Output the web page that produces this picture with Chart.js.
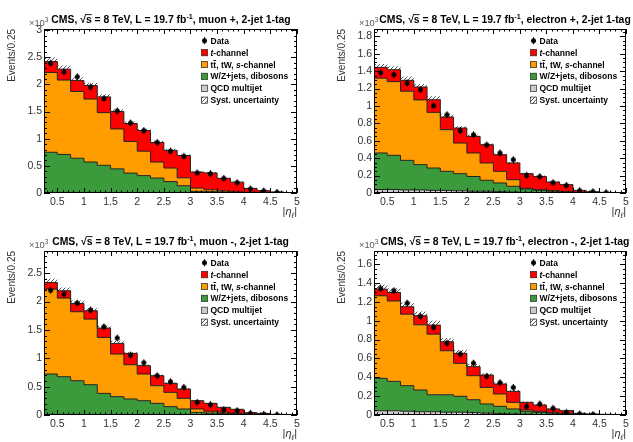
<!DOCTYPE html>
<html>
<head>
<meta charset="utf-8">
<title>t-channel single top |eta| distributions</title>
<script src="https://cdn.jsdelivr.net/npm/chart.js@4.4.1/dist/chart.umd.min.js"></script>
<style>
html, body {
  margin:0px;
  padding:0px;
  background:#ffffff;
}
body {
  position:relative;
  width:633px;
  height:442px;
  overflow:hidden;
}
.pad { position:absolute; }
</style>
</head>
<body>
<div class="pad" style="left:0px;top:0px;width:316px;height:221px"><canvas id="muPlus"></canvas></div>
<div class="pad" style="left:316px;top:0px;width:317px;height:221px"><canvas id="elPlus"></canvas></div>
<div class="pad" style="left:0px;top:221px;width:316px;height:221px"><canvas id="muMinus"></canvas></div>
<div class="pad" style="left:316px;top:221px;width:317px;height:221px"><canvas id="elMinus"></canvas></div>
<script>
// bin edges of |eta_l| (bin width 0.25), values are in units of 10^3 events
const binEdges = [0.25,0.5,0.75,1,1.25,1.5,1.75,2,2.25,2.5,2.75,3,3.25,3.5,3.75,4,4.25,4.5,4.75,5];

// muon +
const qcdMuPlus  = [0.01,0.01,0.01,0.01,0.008,0.008,0.006,0.006,0.005,0.004,0.003,0.002,0.002,0.001,0.001,0,0,0,0];
const wzMuPlus   = [0.74,0.70,0.63,0.56,0.502,0.437,0.36,0.314,0.27,0.206,0.131,0.028,0.023,0.019,0.011,0.005,0.002,0.001,0];
const ttMuPlus   = [1.47,1.37,1.23,1.16,0.97,0.735,0.584,0.45,0.295,0.25,0.146,0.06,0.035,0.02,0.008,0.005,0.003,0.001,0.001];
const tchMuPlus  = [0.20,0.20,0.20,0.25,0.29,0.32,0.33,0.38,0.36,0.325,0.41,0.296,0.31,0.23,0.18,0.076,0.038,0.018,0.004];
const dataMuPlus = [2.39,2.23,2.14,1.95,1.74,1.51,1.29,1.15,0.93,0.77,0.675,0.37,0.356,0.27,0.19,0.074,0.037,0.012,null];
const systMuPlus = [0.08,0.07,0.06,0.05,0.05,0.04,0.035,0.03,0.03,0.03,0.02,0.015,0.015,0.01,0.01,0.005,0.003,0.002,0.001];

// electron +
const qcdElPlus  = [0.04,0.04,0.035,0.035,0.03,0.03,0.025,0.02,0.02,0.015,0.01,0.008,0.005,0.004,0.003,0.002,0.001,0.001,0];
const wzElPlus   = [0.42,0.393,0.34,0.291,0.257,0.219,0.197,0.17,0.126,0.10,0.067,0.038,0.025,0.016,0.007,0.003,0.001,0,0];
const ttElPlus   = [0.86,0.847,0.795,0.744,0.64,0.479,0.352,0.27,0.199,0.134,0.076,0.008,0.008,0.007,0.005,0.003,0.002,0.001,0.001];
const tchElPlus  = [0.124,0.137,0.125,0.148,0.145,0.145,0.173,0.191,0.21,0.191,0.192,0.168,0.152,0.099,0.081,0.022,0.011,0.006,0.002];
const dataElPlus = [1.383,1.36,1.264,1.187,1.003,0.9,0.716,0.67,0.552,0.46,0.383,0.203,0.188,0.119,0.088,0.027,0.015,0.003,null];
const systElPlus = [0.04,0.04,0.045,0.035,0.04,0.03,0.02,0.02,0.015,0.015,0.01,0.01,0.01,0.008,0.005,0.003,0.002,0.001,0.001];

// muon -
const qcdMuMinus  = [0.01,0.01,0.01,0.008,0.008,0.006,0.006,0.005,0.004,0.004,0.003,0.002,0.002,0.001,0.001,0,0,0,0];
const wzMuMinus   = [0.712,0.665,0.594,0.526,0.373,0.317,0.276,0.247,0.201,0.143,0.103,0.045,0.033,0.022,0.017,0.01,0.004,0.002,0];
const ttMuMinus   = [1.496,1.385,1.216,1.156,0.986,0.751,0.604,0.47,0.311,0.252,0.187,0.059,0.03,0.024,0.011,0.008,0.004,0.001,0.001];
const tchMuMinus  = [0.118,0.129,0.146,0.147,0.165,0.188,0.20,0.147,0.176,0.159,0.165,0.146,0.14,0.088,0.071,0.023,0.021,0.009,0.005];
const dataMuMinus = [2.2,2.13,1.97,1.85,1.555,1.356,1.056,0.921,0.692,0.587,0.487,0.223,0.182,0.094,0.076,0.029,0.012,0.003,null];
const systMuMinus = [0.07,0.06,0.05,0.045,0.04,0.045,0.02,0.02,0.02,0.015,0.015,0.01,0.01,0.008,0.005,0.003,0.002,0.001,0.001];

// electron -
const qcdElMinus  = [0.045,0.045,0.04,0.035,0.035,0.03,0.03,0.025,0.02,0.015,0.01,0.008,0.005,0.004,0.003,0.002,0.001,0.001,0];
const wzElMinus   = [0.344,0.312,0.271,0.23,0.18,0.185,0.168,0.137,0.097,0.077,0.054,0.031,0.023,0.014,0.007,0.003,0.001,0,0];
const ttElMinus   = [0.876,0.853,0.759,0.692,0.643,0.467,0.35,0.255,0.176,0.131,0.07,0.014,0.011,0.01,0.008,0.005,0.003,0.001,0.001];
const tchElMinus  = [0.07,0.09,0.078,0.096,0.096,0.095,0.106,0.095,0.131,0.106,0.117,0.081,0.067,0.036,0.028,0.008,0.006,0.005,0.003];
const dataElMinus = [1.342,1.318,1.187,1.046,0.929,0.763,0.646,0.551,0.41,0.343,0.293,0.092,0.117,0.071,0.028,0.011,0.004,null,null];
const systElMinus = [0.05,0.045,0.045,0.045,0.045,0.04,0.035,0.03,0.02,0.02,0.015,0.01,0.01,0.008,0.005,0.003,0.002,0.001,0.001];

const xTicksMajor = 0.5;

const FONT = "'Liberation Sans', Arial, Helvetica, sans-serif";
const colQcd = '#cccccc', colWz = '#3b9a3b', colTt = '#ff9c00', colTch = '#ff0000';

const panels = [
  {id:'muPlus', channel:'muon +', qcd:qcdMuPlus, wz:wzMuPlus, tt:ttMuPlus, tch:tchMuPlus, data:dataMuPlus, syst:systMuPlus,
   yMax:3.02, yStep:0.5, yMinor:5, area:{left:44, top:29, right:297, bottom:193}, w:316, titleShift:0.5},
  {id:'elPlus', channel:'electron +', qcd:qcdElPlus, wz:wzElPlus, tt:ttElPlus, tch:tchElPlus, data:dataElPlus, syst:systElPlus,
   yMax:1.885, yStep:0.2, yMinor:4, area:{left:58, top:29, right:310, bottom:193}, w:317, titleShift:5},
  {id:'muMinus', channel:'muon -', qcd:qcdMuMinus, wz:wzMuMinus, tt:ttMuMinus, tch:tchMuMinus, data:dataMuMinus, syst:systMuMinus,
   yMax:2.89, yStep:0.5, yMinor:5, area:{left:44, top:30, right:297, bottom:194}, w:316, titleShift:0},
  {id:'elMinus', channel:'electron -', qcd:qcdElMinus, wz:wzElMinus, tt:ttElMinus, tch:tchElMinus, data:dataElMinus, syst:systElMinus,
   yMax:1.74, yStep:0.2, yMinor:4, area:{left:58, top:30, right:310, bottom:194}, w:317, titleShift:5}
];

// data marker: dot with a small vertical error bar
function makeDataMarker() {
  const c = document.createElement('canvas');
  c.width = 7; c.height = 9;
  const g = c.getContext('2d');
  g.fillStyle = '#000';
  g.beginPath(); g.arc(3.5, 4.5, 2.5, 0, 2 * Math.PI); g.fill();
  g.fillRect(3, 1, 1, 7);
  return c;
}
const dataMarker = makeDataMarker();

// hatch pattern for syst. uncertainty
function makeHatch() {
  const c = document.createElement('canvas');
  c.width = 4; c.height = 4;
  const g = c.getContext('2d');
  g.strokeStyle = '#444';
  g.lineWidth = 0.9;
  g.beginPath();
  g.moveTo(0, 4); g.lineTo(4, 0);
  g.moveTo(-1, 1); g.lineTo(1, -1);
  g.moveTo(3, 5); g.lineTo(5, 3);
  g.stroke();
  return g.createPattern(c, 'repeat');
}
const hatch = makeHatch();

function addArrays(a, b) { return a.map((v, i) => v + b[i]); }

// step outline points at the bin edges (value held until the next edge)
function stepPoints(vals) {
  const pts = vals.map((v, i) => ({x: binEdges[i], y: v}));
  pts.push({x: binEdges[vals.length], y: vals[vals.length - 1]});
  return pts;
}

function dataPoints(vals) {
  const pts = [];
  vals.forEach((v, i) => {
    if (v !== null) pts.push({x: (binEdges[i] + binEdges[i + 1]) / 2, y: v});
  });
  return pts;
}

function fmt(v) { return String(+v.toFixed(2)); }

// draws a sequence of text pieces with different fonts / offsets
function drawRich(ctx, parts, x, y, align) {
  let w = 0;
  parts.forEach(p => { ctx.font = p.font; p.w = ctx.measureText(p.t).width; w += p.w; });
  let cx = align === 'center' ? x - w / 2 : (align === 'right' ? x - w : x);
  ctx.textAlign = 'left';
  ctx.textBaseline = 'alphabetic';
  parts.forEach(p => {
    ctx.font = p.font;
    ctx.fillText(p.t, cx, y + (p.dy || 0));
    if (p.bar) {
      ctx.save();
      ctx.strokeStyle = ctx.fillStyle;
      ctx.lineWidth = p.barW || 0.9;
      ctx.beginPath();
      ctx.moveTo(cx + (p.barFrom || 0), y - p.bar);
      ctx.lineTo(cx + p.w, y - p.bar);
      ctx.stroke();
      ctx.restore();
    }
    cx += p.w;
  });
}

function decorations(panel) {
  return {
    id: 'rootStyle',
    afterDraw(chart) {
      const ctx = chart.ctx;
      const a = chart.chartArea;
      const xs = chart.scales.x, ys = chart.scales.y;
      ctx.save();

      // frame
      ctx.strokeStyle = '#000';
      ctx.lineWidth = 1;
      ctx.strokeRect(Math.round(a.left) + 0.5, Math.round(a.top) + 0.5,
                     Math.round(a.right - a.left) - 1, Math.round(a.bottom - a.top) - 1);

      // x ticks (bottom and top, pointing inward)
      ctx.beginPath();
      for (let k = Math.ceil(xs.min * 10); k <= Math.round(xs.max * 10); k++) {
        const v = k / 10;
        const px = Math.round(xs.getPixelForValue(v)) + 0.5;
        const major = Math.abs(v / xTicksMajor - Math.round(v / xTicksMajor)) < 1e-6;
        const len = major ? 5 : 2.5;
        ctx.moveTo(px, a.bottom); ctx.lineTo(px, a.bottom - len);
        ctx.moveTo(px, a.top); ctx.lineTo(px, a.top + len);
      }
      // y ticks (left and right)
      const minor = panel.yStep / panel.yMinor;
      for (let k = 0; k * minor <= ys.max + 1e-9; k++) {
        const v = k * minor;
        const py = Math.round(ys.getPixelForValue(v)) + 0.5;
        const len = (k % panel.yMinor === 0) ? 6 : 3;
        ctx.moveTo(a.left, py); ctx.lineTo(a.left + len, py);
        ctx.moveTo(a.right, py); ctx.lineTo(a.right - len, py);
      }
      ctx.stroke();

      // x10^3 multiplier
      ctx.fillStyle = '#555';
      drawRich(ctx, [
        {t: '\u00D710', font: '9.3px ' + FONT},
        {t: '3', font: '6.5px ' + FONT, dy: -4}
      ], a.left - 15, a.top - 3, 'left');

      // title
      ctx.fillStyle = '#000';
      const b = 'bold 10.4px ' + FONT;
      const bs = 'bold 7.2px ' + FONT;
      drawRich(ctx, [
        {t: 'CMS, ', font: b},
        {t: '\u221A', font: b, bar: 7.9, barFrom: 5},
        {t: 's', font: b, bar: 7.9},
        {t: ' = 8 TeV, L = 19.7 fb', font: b},
        {t: '-1', font: bs, dy: -4},
        {t: ', ' + panel.channel + ', 2-jet 1-tag', font: b}
      ], (a.left + a.right) / 2 + panel.titleShift, a.top - 6.5, 'center');

      // y axis title
      ctx.save();
      ctx.fillStyle = '#333';
      ctx.translate(a.left - 32, a.top);
      ctx.rotate(-Math.PI / 2);
      ctx.font = '10px ' + FONT;
      ctx.textAlign = 'right';
      ctx.textBaseline = 'middle';
      ctx.fillText('Events/0.25', 0, 0);
      ctx.restore();

      // x axis title
      ctx.fillStyle = '#333';
      drawRich(ctx, [
        {t: '|', font: '11px ' + FONT},
        {t: '\u03B7', font: 'italic 11px ' + FONT},
        {t: '\u2113', font: 'italic 8px ' + FONT, dy: 3},
        {t: '|', font: '11px ' + FONT}
      ], a.right, a.bottom + 21.5, 'right');

      // legend
      const lx = a.right - 96;
      const ly = a.top + 11.7;
      const dy = 11.9;
      const lf = 'bold 8.5px ' + FONT;
      const lfi = 'bold italic 8.5px ' + FONT;
      const entries = [
        {kind: 'data', parts: [{t: 'Data', font: lf}]},
        {kind: 'box', fill: colTch, parts: [{t: 't', font: lfi}, {t: '-channel', font: lf}]},
        {kind: 'box', fill: colTt, parts: [{t: 't', font: lf}, {t: 't', font: lf, bar: 7}, {t: ', tW, ', font: lf}, {t: 's', font: lfi}, {t: '-channel', font: lf}]},
        {kind: 'box', fill: colWz, parts: [{t: 'W/Z+jets, dibosons', font: lf}]},
        {kind: 'box', fill: colQcd, parts: [{t: 'QCD multijet', font: lf}]},
        {kind: 'box', fill: hatch, parts: [{t: 'Syst. uncertainty', font: lf}]}
      ];
      entries.forEach((e, i) => {
        const cy = ly + i * dy;
        if (e.kind === 'data') {
          ctx.drawImage(dataMarker, lx + 3.5 - dataMarker.width / 2, cy - dataMarker.height / 2);
        } else {
          ctx.fillStyle = '#fff';
          ctx.fillRect(lx, cy - 3.5, 7, 7);
          ctx.fillStyle = e.fill;
          ctx.fillRect(lx, cy - 3.5, 7, 7);
          ctx.strokeStyle = '#444';
          ctx.lineWidth = 0.8;
          ctx.strokeRect(lx + 0.4, cy - 3.1, 6.2, 6.2);
        }
        ctx.fillStyle = '#000';
        drawRich(ctx, e.parts, lx + 9.5, cy + 3, 'left');
      });

      ctx.restore();
    }
  };
}

panels.forEach(p => {
  const cQcd = p.qcd;
  const cWz = addArrays(cQcd, p.wz);
  const cTt = addArrays(cWz, p.tt);
  const cTot = addArrays(cTt, p.tch);
  const systHi = cTot.map((v, i) => v + p.syst[i]);
  const systLo = cTot.map((v, i) => Math.max(v - p.syst[i], 0));

  const line = (label, vals, color, fill) => ({
    label: label,
    data: stepPoints(vals),
    stepped: true,
    borderColor: '#222',
    borderWidth: 1,
    backgroundColor: color,
    fill: fill,
    pointRadius: 0
  });

  new Chart(document.getElementById(p.id), {
    type: 'line',
    data: {
      datasets: [
        {label: 'Data', data: dataPoints(p.data), showLine: false, pointStyle: dataMarker, pointRadius: 3, borderWidth: 0},
        line('t-channel', cTot, colTch, 2),
        line('tt, tW, s-channel', cTt, colTt, 3),
        line('W/Z+jets, dibosons', cWz, colWz, 4),
        line('QCD multijet', cQcd, colQcd, 'origin'),
        {label: 'Syst. uncertainty', data: stepPoints(systHi), stepped: true, borderWidth: 0, backgroundColor: hatch, fill: 6, pointRadius: 0},
        {label: 'syst low', data: stepPoints(systLo), stepped: true, borderWidth: 0, fill: false, pointRadius: 0}
      ]
    },
    options: {
      responsive: true,
      maintainAspectRatio: false,
      animation: false,
      events: [],
      layout: {padding: {left: 0, top: p.area.top, right: p.w - p.area.right, bottom: 0}},
      plugins: {
        legend: {display: false},
        tooltip: {enabled: false},
        filler: {drawTime: 'beforeDatasetsDraw'}
      },
      scales: {
        x: {
          type: 'linear',
          min: binEdges[0],
          max: binEdges[binEdges.length - 1],
          grid: {display: false, drawTicks: false},
          border: {display: false},
          ticks: {stepSize: xTicksMajor, includeBounds: false, padding: 3, maxRotation: 0, autoSkip: false,
                  color: '#333', font: {family: FONT, size: 10.5}, callback: v => fmt(v)},
          afterFit: s => { s.height = 221 - p.area.bottom; }
        },
        y: {
          min: 0,
          max: p.yMax,
          grid: {display: false, drawTicks: false},
          border: {display: false},
          ticks: {stepSize: p.yStep, includeBounds: false, padding: 2, autoSkip: false,
                  color: '#333', font: {family: FONT, size: 10.5}, callback: v => fmt(v)},
          afterFit: s => { s.width = p.area.left; }
        }
      }
    },
    plugins: [decorations(p)]
  });
});
</script>
</body>
</html>
